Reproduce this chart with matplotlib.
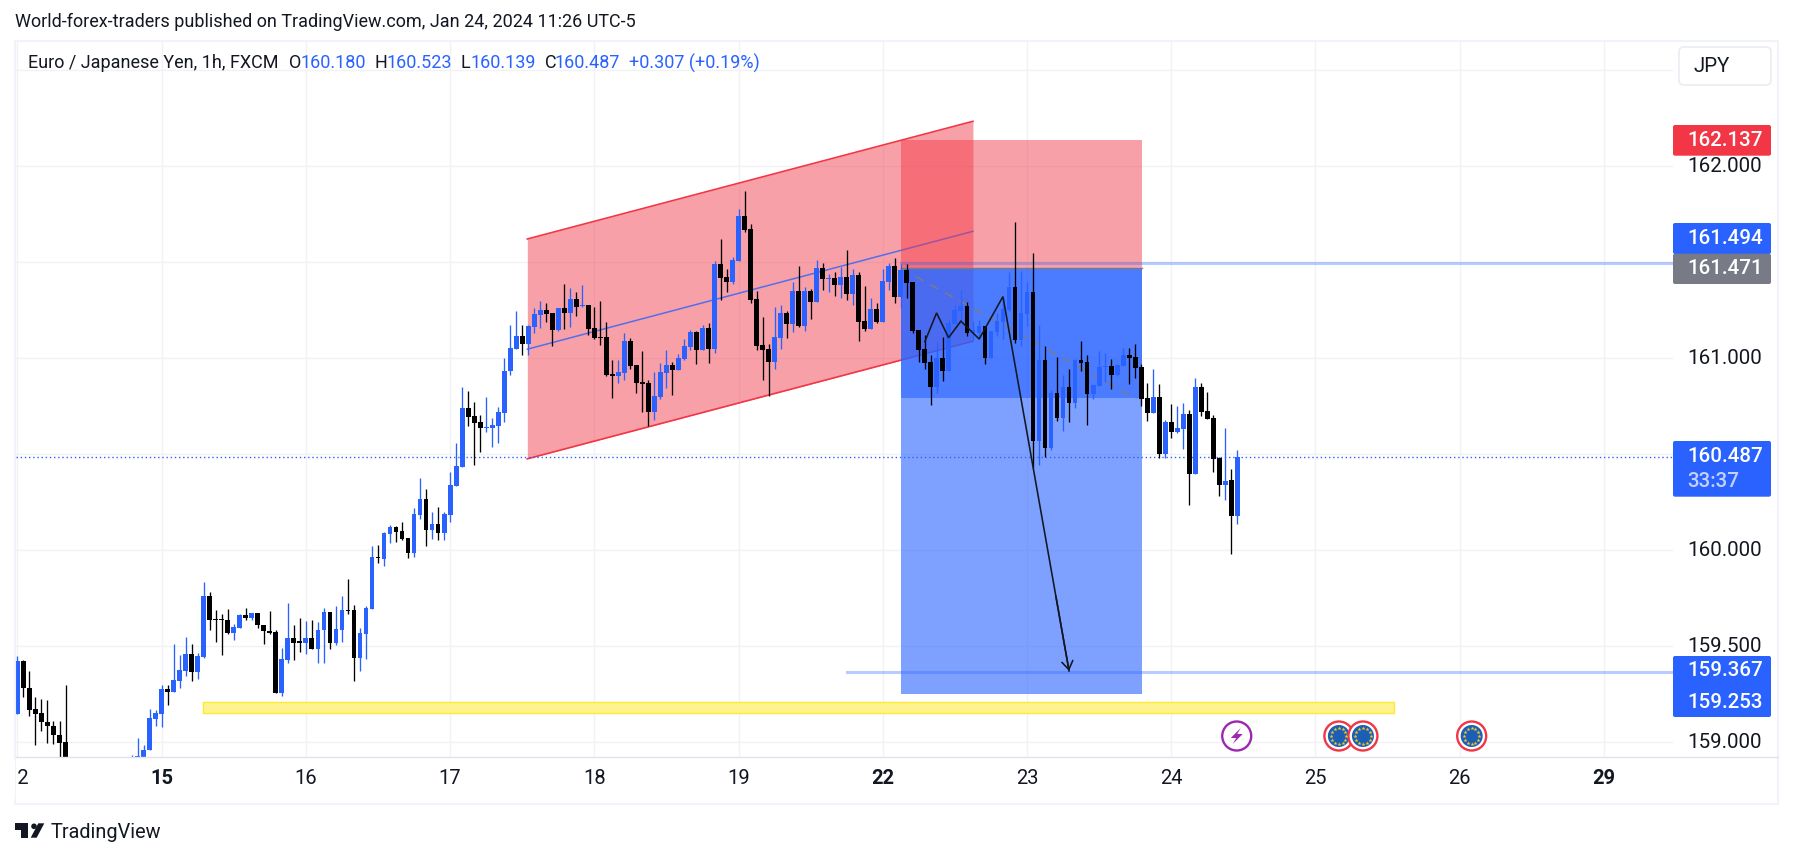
import numpy as np
import matplotlib
matplotlib.use("Agg")
import matplotlib.pyplot as plt
from matplotlib.patches import Rectangle, FancyBboxPatch, Circle, Polygon

plt.rcParams['font.family'] = ['Roboto', 'DejaVu Sans']

# hourly bars, 0 = first bar of the 15th (bars -15..-6 sit below the visible range, estimated)
first_bar = -24
opens = [159.149,159.424,159.283,159.174,159.153,159.106,159.085,159.038,159.002,
    158.84,158.78,158.75,158.72,158.76,158.74,158.78,158.76,158.80,158.78,158.80,158.86,158.90,158.957,159.123,
    159.149,159.278,159.264,159.321,159.373,159.460,159.368,159.445,159.762,159.643,159.639,159.637,159.571,159.597,159.663,159.649,159.674,159.611,159.580,159.575,159.257,159.429,159.544,159.523,
    159.519,159.544,159.488,159.582,159.679,159.519,159.587,159.689,159.689,159.441,159.566,159.696,159.965,159.955,160.087,160.122,160.101,160.064,159.983,160.186,160.268,160.103,160.137,160.092,
    160.186,160.335,160.436,160.741,160.700,160.669,160.634,160.639,160.649,160.717,160.931,161.049,161.116,161.075,161.163,161.226,161.252,161.236,161.148,161.262,161.236,161.309,161.273,161.278,
    161.158,161.111,161.111,160.919,160.908,160.924,161.090,160.965,160.877,160.872,160.721,160.799,160.924,160.965,160.939,160.997,161.059,161.137,161.044,161.158,161.049,161.491,161.424,161.398,
    161.507,161.741,161.674,161.309,161.070,161.049,160.981,161.106,161.236,161.179,161.351,161.169,161.351,161.294,161.471,161.413,161.418,161.382,161.424,161.335,161.434,161.195,161.153,161.257,
    161.189,161.397,161.480,161.319,161.459,161.397,161.147,161.048,160.980,160.850,161.001,160.933,161.178,161.246,161.272,161.131,161.130,161.168,161.001,161.137,161.189,161.251,161.371,161.095,
    161.230,161.345,160.569,160.991,160.532,160.819,160.689,160.850,160.767,160.991,160.980,160.814,160.855,160.954,160.959,160.913,160.959,161.017,161.006,160.954,160.793,160.715,160.798,160.501,
    160.668,160.616,160.631,160.709,160.397,160.850,160.725,160.689,160.480,160.340,160.366,160.180]
highs = [159.450,159.429,159.372,159.236,159.226,159.221,159.113,159.113,159.299,
    158.88,158.85,158.82,158.80,158.84,158.82,158.86,158.84,158.88,158.86,158.934,159.023,158.986,159.174,159.170,
    159.299,159.299,159.512,159.455,159.549,159.512,159.464,159.835,159.781,159.689,159.669,159.695,159.616,159.669,159.700,159.674,159.674,159.611,159.684,159.585,159.491,159.726,159.611,159.648,
    159.632,159.637,159.627,159.700,159.679,159.710,159.762,159.851,159.715,159.596,159.710,160.023,160.028,160.096,160.132,160.127,160.148,160.064,160.221,160.377,160.320,160.200,160.226,160.200,
    160.408,160.559,160.851,160.830,160.773,160.705,160.799,160.689,160.747,161.002,161.174,161.247,161.174,161.174,161.262,161.299,161.288,161.236,161.262,161.387,161.366,161.346,161.382,161.278,
    161.267,161.299,161.189,160.991,160.991,161.132,161.106,160.965,161.038,160.887,160.929,160.976,161.044,160.981,161.023,161.101,161.148,161.142,161.174,161.184,161.507,161.622,161.465,161.528,
    161.778,161.872,161.700,161.351,161.215,161.075,161.267,161.278,161.247,161.398,161.481,161.372,161.361,161.512,161.497,161.439,161.450,161.476,161.564,161.465,161.450,161.377,161.314,161.288,
    161.465,161.496,161.522,161.491,161.491,161.397,161.147,161.121,161.017,161.084,161.110,161.204,161.277,161.355,161.293,161.194,161.199,161.168,161.142,161.235,161.314,161.449,161.709,161.454,
    161.397,161.548,161.173,161.064,160.834,161.006,160.913,160.944,160.996,161.090,161.017,160.860,161.038,161.027,160.996,160.970,161.053,161.053,161.074,160.970,160.871,160.944,160.866,160.678,
    160.762,160.751,160.767,160.730,160.897,160.871,160.824,160.704,160.485,160.637,160.423,160.523]
lows = [159.149,159.233,159.139,158.983,159.061,158.998,158.993,158.88,158.80,
    158.75,158.72,158.70,158.68,158.72,158.70,158.74,158.72,158.76,158.74,158.77,158.83,158.88,158.957,159.087,
    159.077,159.196,159.264,159.280,159.347,159.321,159.327,159.439,159.587,159.524,159.452,159.566,159.530,159.597,159.639,159.634,159.597,159.514,159.566,159.254,159.243,159.415,159.426,159.472,
    159.462,159.488,159.415,159.415,159.483,159.504,159.524,159.670,159.321,159.373,159.436,159.696,159.936,159.920,160.035,160.045,160.051,159.957,159.967,160.160,160.024,160.061,160.051,160.051,
    160.149,160.332,160.436,160.649,160.446,160.509,160.618,160.535,160.556,160.670,160.915,161.049,161.017,161.017,161.132,161.158,161.189,161.064,161.142,161.153,161.163,161.221,161.267,161.122,
    161.101,161.070,160.908,160.794,160.872,160.887,160.945,160.820,160.721,160.648,160.679,160.788,160.846,160.809,160.939,160.991,161.044,160.971,161.044,160.976,161.028,161.304,161.346,161.387,
    161.507,161.658,161.288,161.044,160.887,160.804,160.945,161.049,161.106,161.137,161.163,161.142,161.205,161.294,161.356,161.346,161.325,161.314,161.304,161.278,161.090,161.142,161.153,161.184,
    161.189,161.355,161.288,161.261,161.314,161.131,160.980,160.944,160.756,160.819,160.881,160.933,161.178,161.199,161.116,161.095,161.098,160.970,161.001,161.116,161.100,161.246,161.079,161.064,
    161.168,160.428,160.444,160.485,160.522,160.673,160.621,160.668,160.741,160.933,160.652,160.788,160.855,160.876,160.840,160.907,160.959,160.866,160.897,160.751,160.673,160.715,160.480,160.480,
    160.584,160.610,160.527,160.235,160.397,160.699,160.683,160.407,160.282,160.262,159.980,160.139]
closes = [159.424,159.280,159.170,159.149,159.103,159.082,159.035,158.998,158.84,
    158.78,158.75,158.72,158.76,158.74,158.78,158.76,158.80,158.78,158.80,158.86,158.929,158.960,159.127,159.153,
    159.278,159.264,159.325,159.377,159.460,159.368,159.450,159.762,159.639,159.637,159.636,159.570,159.601,159.663,159.649,159.674,159.608,159.577,159.570,159.257,159.434,159.544,159.519,159.519,
    159.544,159.488,159.585,159.679,159.519,159.590,159.689,159.684,159.441,159.570,159.700,159.965,159.960,160.090,160.122,160.097,160.061,159.983,160.189,160.268,160.103,160.137,160.092,160.189,
    160.340,160.439,160.741,160.696,160.665,160.634,160.643,160.653,160.721,160.934,161.054,161.116,161.075,161.169,161.231,161.252,161.231,161.148,161.262,161.236,161.309,161.267,161.278,161.153,
    161.106,161.106,160.913,160.908,160.929,161.090,160.960,160.872,160.866,160.721,160.804,160.929,160.965,160.939,161.002,161.064,161.137,161.044,161.158,161.049,161.491,161.418,161.398,161.512,
    161.741,161.669,161.304,161.064,161.044,160.981,161.111,161.236,161.179,161.351,161.169,161.351,161.294,161.471,161.413,161.418,161.382,161.424,161.335,161.434,161.189,161.153,161.257,161.189,
    161.403,161.480,161.319,161.459,161.392,161.142,161.043,160.975,160.850,161.001,160.933,161.183,161.251,161.272,161.131,161.147,161.168,161.001,161.142,161.194,161.256,161.371,161.095,161.235,
    161.345,160.569,160.991,160.532,160.819,160.689,160.850,160.767,160.991,160.975,160.814,160.860,160.954,160.959,160.913,160.965,161.017,161.001,160.949,160.788,160.715,160.798,160.501,160.668,
    160.616,160.637,160.709,160.397,160.850,160.720,160.683,160.475,160.340,160.360,160.178,160.487]

day_ticks = [-24, 0, 24, 48, 72, 96, 120, 144, 168, 192, 216, 240]
day_labels = ['12', '15', '16', '17', '18', '19', '22', '23', '24', '25', '26', '29']
week_starts = ['15', '22', '29']
grid_prices = [159.0, 159.5, 160.0, 160.5, 161.0, 161.5, 162.0, 162.5]
price_labels = ['159.000', '159.500', '160.000', '', '161.000', '', '162.000', '']

# drawings
channel_x = [60.85, 135.0]
channel_top = [161.621, 162.234]
channel_mid = [161.047, 161.661]
channel_bot = [160.476, 161.089]
pos_x = [123.0, 163.1]
pos_stop = 162.137
pos_entry = 161.471
pos_inner = 160.793
pos_target = 159.253
dash_x = [123.0, 162.2]
dash_y = [161.469, 160.788]
path_x = [127.0, 128.95, 130.95, 133.0, 136.04, 140.0]
path_y = [161.086, 161.236, 161.107, 161.193, 161.100, 161.321]
arrow_tip = (151.0, 159.371)
zone_x = [6.92, 205.0]
zone_y = [159.154, 159.208]
level_high = 161.494
level_low = 159.367
level_low_start = 114.0
last_price = 160.487
event_bolt = [178.9]
event_eu = [195.9, 199.9, 218.0]

BLUE = '#2962ff'
RED = '#f23645'
INK = '#131722'
GRID = '#f1f2f5'
W, H = 1793, 858

fig = plt.figure(figsize=(W / 100, H / 100), dpi=100, facecolor='white')
left, right, top, bottom = 16.3, 1673, 42, 757
ax = fig.add_axes([left / W, 1 - bottom / H, (right - left) / W, (bottom - top) / H])
ax.set_xlim(-24.19, 251.5)
ax.set_ylim(158.923, 162.647)
for s in ax.spines.values():
    s.set_visible(False)

ax.set_xticks(day_ticks)
ax.set_xticklabels([])
ax.set_yticks(grid_prices)
ax.set_yticklabels([])
ax.tick_params(length=0)
ax.grid(True, color=GRID, lw=1.0)
ax.set_axisbelow(True)

# channel, the position box goes over it
ax.fill_between(channel_x, channel_bot, channel_top, color=RED, alpha=0.47, lw=0, zorder=1)
ax.plot(channel_x, channel_top, color=RED, lw=1.2, zorder=1)
ax.plot(channel_x, channel_bot, color=RED, lw=1.2, zorder=1)
ax.plot(channel_x, channel_mid, color=BLUE, lw=1.1, alpha=0.8, zorder=1)

# short position box
ax.fill_between(pos_x, pos_entry, pos_stop, color=RED, alpha=0.47, lw=0, zorder=1)
ax.fill_between(pos_x, pos_target, pos_entry, color=BLUE, alpha=0.6, lw=0, zorder=1)
ax.fill_between(pos_x, pos_inner, pos_entry, color=BLUE, alpha=0.6, lw=0, zorder=1)
ax.plot(pos_x, [pos_entry, pos_entry], color='#787b86', lw=1, zorder=2)
ax.plot(dash_x, dash_y, color='#787b86', lw=1.1, ls=(0, (6, 5)), zorder=2)

ax.add_patch(Rectangle((zone_x[0], zone_y[0]), zone_x[1] - zone_x[0], zone_y[1] - zone_y[0],
                       facecolor='#fff38f', edgecolor='#fbe934', lw=1, zorder=2))

# horizontal rays, run up to the price scale
ax.plot([pos_x[0], 251.5], [level_high, level_high], color=BLUE, alpha=0.32, lw=2.2, zorder=2)
ax.plot([level_low_start, 251.5], [level_low, level_low], color=BLUE, alpha=0.32, lw=2.2, zorder=2)
ax.axhline(last_price, color=BLUE, lw=1, ls=(0, (1, 2)), zorder=2)

# candles
bars = np.arange(first_bar, first_bar + len(opens))
o = np.array(opens)
h = np.array(highs)
l = np.array(lows)
c = np.array(closes)
colors = np.where(c >= o, BLUE, '#000000')
ax.vlines(bars, l, h, colors=colors, lw=0.95, zorder=3)
body_low = np.minimum(o, c)
body_h = np.maximum(np.abs(c - o), 0.006)
ax.bar(bars, body_h, bottom=body_low, width=0.8, color=colors, lw=0, zorder=4)

# hand drawn path and arrow
ax.plot(path_x + [arrow_tip[0]], path_y + [arrow_tip[1]], color=INK, lw=1.15, zorder=5, solid_joinstyle='miter')
ax.annotate('', xy=arrow_tip, xytext=(path_x[-1] + 8.8, path_y[-1] - 1.56),
            arrowprops=dict(arrowstyle='->,head_length=0.6,head_width=0.4', color=INK, lw=1.15, shrinkA=0, shrinkB=0),
            zorder=5)

# everything in pixel space from here on
over = fig.add_axes([0, 0, 1, 1])
over.set_xlim(0, W)
over.set_ylim(H, 0)
over.axis('off')
over.patch.set_visible(False)


def px(i, p):
    x, y = ax.transData.transform((i, p))
    return x, H - y


# event icons
icon_y = 736
for i in event_eu:
    x = px(i, 159)[0]
    over.add_patch(Circle((x, icon_y), 14.5, facecolor='white', edgecolor=RED, lw=1.7, zorder=3))
    over.add_patch(Circle((x, icon_y), 11, facecolor='#1a5fb4', edgecolor='none', zorder=3))
    a = np.arange(12) * np.pi / 6
    over.scatter(x + 7.6 * np.cos(a), icon_y + 7.6 * np.sin(a), s=9, marker='*', color='#f6c92b', lw=0, zorder=4)
for i in event_bolt:
    x = px(i, 159)[0]
    over.add_patch(Circle((x, icon_y), 14.5, facecolor='white', edgecolor='#9c27b0', lw=1.7, zorder=3))
    over.add_patch(Polygon([(x + 4, icon_y - 8), (x - 6, icon_y + 2), (x - 0.5, icon_y + 2), (x - 4, icon_y + 8),
                            (x + 6, icon_y - 2), (x + 0.5, icon_y - 2)], facecolor='#9c27b0', edgecolor='none', zorder=4))

# frame
over.add_patch(Rectangle((15.3, 41), 1778 - 15.3, 804 - 41, fill=False, edgecolor='#f0f3fa', lw=1.5))
over.plot([16, 1778], [757, 757], color='#e0e3eb', lw=1)

# x labels
for tick, lab in zip(day_ticks, day_labels):
    x = px(tick, 159)[0]
    over.text(x, 779, lab, ha='center', va='center', fontsize=14.5, color=INK,
              fontweight='bold' if lab in week_starts else 'normal')
over.add_patch(Rectangle((0, 759), 15, 40, facecolor='white', edgecolor='none', zorder=5))

# y labels
for p, lab in zip(grid_prices, price_labels):
    if lab:
        over.text(1687, px(0, p)[1], lab, ha='left', va='center', fontsize=14.8, color=INK)


def price_box(y0, y1, color):
    over.add_patch(FancyBboxPatch((1673, y0), 98, y1 - y0, boxstyle='round,pad=0,rounding_size=2',
                                  facecolor=color, edgecolor='none', zorder=6))


def box_text(y, s, color='white'):
    over.text(1687, y, s, ha='left', va='center', fontsize=14.8, color=color, fontweight='medium', zorder=7)


price_box(125, 155.7, RED)
box_text(140.5, '162.137')
price_box(223, 254, BLUE)
box_text(238.5, '161.494')
price_box(253.7, 284, '#787b86')
box_text(269, '161.471')
price_box(441, 496.7, BLUE)
box_text(457, '160.487')
box_text(481.5, '33:37', '#c3d2ff')
price_box(656, 717, BLUE)
box_text(671, '159.367')
box_text(702, '159.253')

# currency button
over.add_patch(FancyBboxPatch((1679, 47), 92, 38, boxstyle='round,pad=0,rounding_size=5',
                              facecolor='white', edgecolor='#e9ecf2', lw=1.2, zorder=6))
over.text(1693, 66, 'JPY', ha='left', va='center', fontsize=14.8, color=INK, zorder=7)

# header
over.text(15, 22, 'World-forex-traders published on TradingView.com, Jan 24, 2024 11:26 UTC-5',
          ha='left', va='center', fontsize=13, color=INK)
legend_y = 63
over.text(28, legend_y, 'Euro / Japanese Yen, 1h, FXCM', ha='left', va='center', fontsize=13, color=INK)
for x, s, col in [(289, 'O', INK), (301, '160.180', BLUE), (375, 'H', INK), (387, '160.523', BLUE),
                  (460, 'L', INK), (470, '160.139', BLUE), (545, 'C', INK), (555, '160.487', BLUE),
                  (629, '+0.307 (+0.19%)', BLUE)]:
    over.text(x, legend_y, s, ha='left', va='center', fontsize=13, color=col)

# footer logo
over.add_patch(Polygon([(15, 823.3), (28, 823.3), (28, 837.7), (20.7, 837.7), (20.7, 830), (15, 830)], facecolor=INK, edgecolor='none'))
over.add_patch(Circle((34, 826.3), 2.8, facecolor=INK, edgecolor='none'))
over.add_patch(Polygon([(30.7, 837.7), (36.7, 837.7), (44.3, 823.3), (38.3, 823.3)], facecolor=INK, edgecolor='none'))
over.text(50.7, 832, 'TradingView', ha='left', va='center', fontsize=14.3, color=INK)

fig.savefig('out.png', dpi=100)
